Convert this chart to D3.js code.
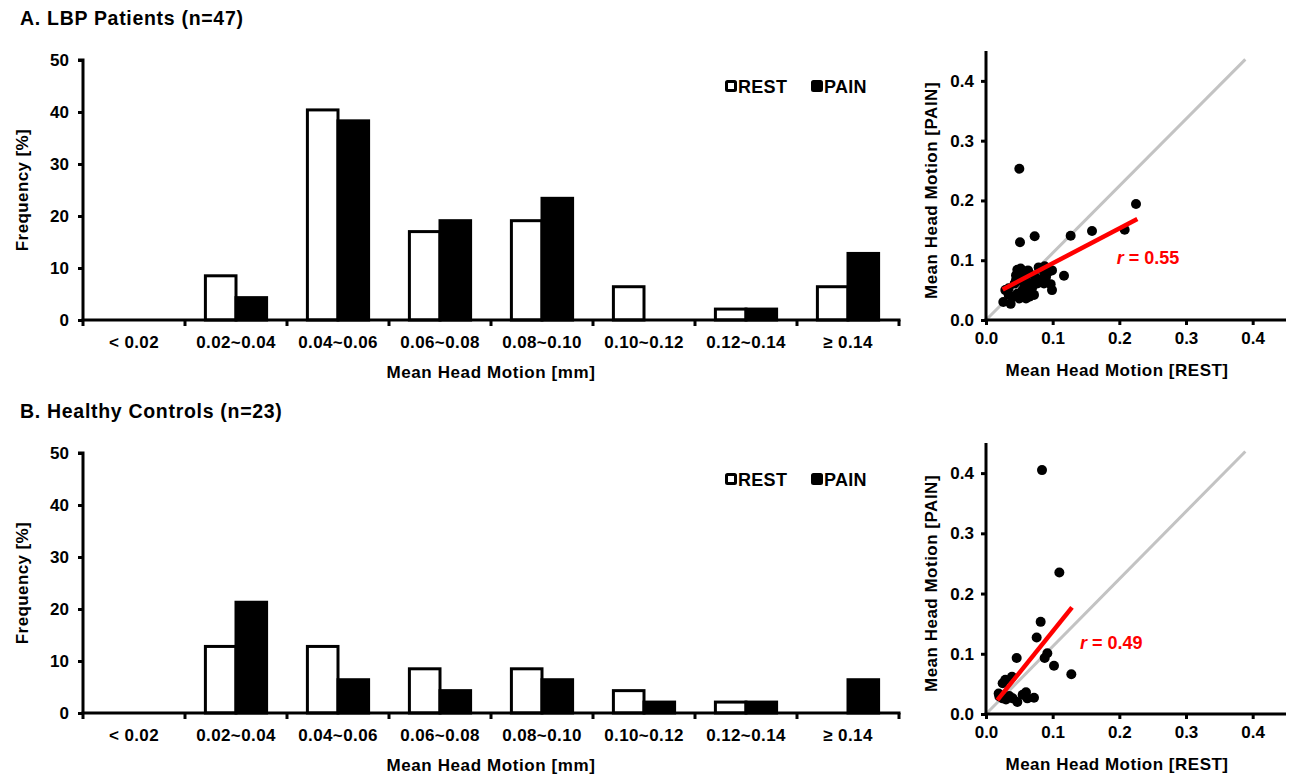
<!DOCTYPE html>
<html>
<head>
<meta charset="utf-8">
<script src="https://cdn.jsdelivr.net/npm/d3@7"></script>
<style>
  body { margin: 0; background: #fff; }
  text { font-family: "Liberation Sans", Arial, sans-serif; font-weight: bold; fill: #000; }
</style>
</head>
<body>
<svg id="chart"></svg>
<script>
// histogram bins
let categories = ["< 0.02", "0.02~0.04", "0.04~0.06", "0.06~0.08", "0.08~0.10", "0.10~0.12", "0.12~0.14", "\u2265 0.14"];
let seriesNames = ["REST", "PAIN"];
let yTicks = [0, 10, 20, 30, 40, 50];
let scatterTicks = [0, 0.1, 0.2, 0.3, 0.4];

// A. LBP patients, % of subjects
let restA = [0, 8.5, 40.4, 17.0, 19.1, 6.4, 2.1, 6.4];
let painA = [0, 4.3, 38.3, 19.1, 23.4, 0, 2.1, 12.8];
// B. healthy controls
let restB = [0, 12.8, 12.8, 8.5, 8.5, 4.3, 2.1, 0];
let painB = [0, 21.3, 6.4, 4.3, 6.4, 2.1, 2.1, 6.4];

// scatter: [rest, pain] mean head motion (mm)
let pointsA = [
    [0.050, 0.253], [0.225, 0.194], [0.208, 0.151], [0.159, 0.149], [0.127, 0.141],
    [0.073, 0.140], [0.051, 0.130], [0.117, 0.074], [0.026, 0.030], [0.037, 0.027],
    [0.047, 0.084], [0.052, 0.086], [0.079, 0.088], [0.088, 0.090], [0.099, 0.083],
    [0.097, 0.060], [0.099, 0.050], [0.082, 0.067], [0.072, 0.042], [0.065, 0.039],
    [0.057, 0.061], [0.034, 0.053], [0.029, 0.050], [0.040, 0.039], [0.047, 0.044],
    [0.055, 0.050], [0.060, 0.072], [0.067, 0.061], [0.052, 0.067], [0.063, 0.083],
    [0.045, 0.067], [0.074, 0.072], [0.090, 0.072], [0.093, 0.080], [0.043, 0.061],
    [0.057, 0.039], [0.062, 0.050], [0.050, 0.036], [0.034, 0.042], [0.065, 0.078],
    [0.087, 0.080], [0.077, 0.061], [0.055, 0.081], [0.069, 0.053], [0.045, 0.075],
    [0.087, 0.061], [0.060, 0.036]
];
let pointsB = [
    [0.084, 0.405], [0.110, 0.235], [0.082, 0.153], [0.076, 0.127], [0.092, 0.101],
    [0.088, 0.093], [0.102, 0.080], [0.128, 0.066], [0.046, 0.093], [0.039, 0.062],
    [0.029, 0.057], [0.025, 0.051], [0.019, 0.034], [0.025, 0.026], [0.035, 0.030],
    [0.047, 0.020], [0.060, 0.036], [0.062, 0.026], [0.072, 0.027], [0.055, 0.032],
    [0.030, 0.024], [0.040, 0.026], [0.020, 0.029]
];
let fitA = [[0.025, 0.051], [0.227, 0.169]];
let fitB = [[0.017, 0.023], [0.129, 0.177]];
let refLine = [[0, 0], [0.389, 0.436]];
let rA = "0.55";
let rB = "0.49";

let svg = d3.select("#chart").attr("width", 1291).attr("height", 776);

function histogram(top, title, rest, pain) {
    let g = svg.append("g").attr("transform", `translate(0, ${top})`);
    let bottom = 320, ceil = 60, left = 83, right = 899;

    g.append("text").attr("x", 20).attr("y", 25)
        .style("font-size", "19.5px").style("letter-spacing", "0.7px")
        .text(title);

    let x = d3.scaleBand().domain(categories).range([left, right])
        .paddingInner(0.4).paddingOuter(0.2);
    let xs = d3.scaleBand().domain(seriesNames).range([0, x.bandwidth()]);
    let y = d3.scaleLinear().domain([0, 50]).range([bottom, ceil]);

    let rows = categories.map((c, i) => ({ cat: c, REST: rest[i], PAIN: pain[i] }));
    g.append("g").selectAll("g").data(rows).enter().append("g")
        .attr("transform", d => `translate(${x(d.cat)}, 0)`)
        .selectAll("rect")
        .data(d => seriesNames.map(s => ({ s: s, v: d[s] })).filter(e => e.v > 0))
        .enter().append("rect")
        .attr("x", d => xs(d.s))
        .attr("width", xs.bandwidth())
        .attr("y", d => y(d.v))
        .attr("height", d => y(0) - y(d.v))
        .attr("fill", d => d.s == "REST" ? "#fff" : "#000")
        .attr("stroke", "#000")
        .attr("stroke-width", 3);

    // y axis
    let ya = g.append("g").attr("transform", `translate(${left}, 0)`)
        .call(d3.axisLeft(y).tickValues(yTicks).tickSize(5).tickPadding(9));
    ya.select(".domain").attr("stroke-width", 3).attr("d", `M-5,${ceil}H0V${bottom}`);
    ya.selectAll(".tick line").attr("stroke-width", 3);
    ya.selectAll("text").style("font-size", "17px").style("font-family", null);

    // x axis: labels centred, ticks on bin edges
    let xa = g.append("g").attr("transform", `translate(0, ${bottom})`)
        .call(d3.axisBottom(x).tickSize(0).tickPadding(16));
    xa.select(".domain").attr("stroke-width", 3).attr("d", `M${left - 1.5},0H${right + 1.5}`);
    xa.selectAll("text").style("font-size", "17px").style("font-family", null).style("letter-spacing", "0.4px");
    let edges = categories.map(c => x(c) - x.step() * x.paddingInner() / 2)
        .concat([right]);
    xa.selectAll(".edge").data(edges).enter().append("line")
        .attr("x1", d => d).attr("x2", d => d)
        .attr("y1", 0).attr("y2", 6)
        .attr("stroke", "#000").attr("stroke-width", 3);

    g.append("text").attr("x", (left + right) / 2).attr("y", 58 + bottom)
        .attr("text-anchor", "middle")
        .style("font-size", "17px").style("letter-spacing", "0.6px")
        .text("Mean Head Motion [mm]");
    g.append("text")
        .attr("transform", `translate(28, ${(ceil + bottom) / 2}) rotate(-90)`)
        .attr("text-anchor", "middle")
        .style("font-size", "17px").style("letter-spacing", "0.4px")
        .text("Frequency [%]");

    // legend
    let lg = g.append("g");
    let legendX = [725, 811];
    seriesNames.forEach((s, i) => {
        lg.append("rect").attr("x", legendX[i] + 1.5).attr("y", 81.5)
            .attr("width", 9).attr("height", 9).attr("rx", 1)
            .attr("fill", s == "REST" ? "#fff" : "#000")
            .attr("stroke", "#000").attr("stroke-width", 3);
        lg.append("text").attr("x", legendX[i] + 13).attr("y", 92.5)
            .style("font-size", "18px").style("letter-spacing", "0.3px")
            .text(s);
    });
}

function scatter(top, bottom, points, fit, r, rPos) {
    let left = 986;
    let x = d3.scaleLinear().domain([0, 0.45]).range([left, left + 300]);
    let y = d3.scaleLinear().domain([0, 0.45]).range([bottom, top]);
    let g = svg.append("g");

    let line = d3.line().x(d => x(d[0])).y(d => y(d[1]));
    g.append("path").attr("d", line(refLine))
        .attr("stroke", "#c3c3c3").attr("stroke-width", 3).attr("fill", "none");

    g.append("g").selectAll("circle").data(points).enter().append("circle")
        .attr("cx", d => x(d[0])).attr("cy", d => y(d[1])).attr("r", 5)
        .attr("fill", "#000");

    g.append("path").attr("d", line(fit))
        .attr("stroke", "#f00").attr("stroke-width", 4.5).attr("fill", "none");

    let t = g.append("text").attr("x", x(rPos[0])).attr("y", y(rPos[1]))
        .style("font-size", "18px").style("fill", "#f00");
    t.append("tspan").style("font-style", "italic").style("fill", "#f00").text("r");
    t.append("tspan").style("fill", "#f00").text(" = " + r);

    let xa = g.append("g").attr("transform", `translate(0, ${bottom})`)
        .call(d3.axisBottom(x).tickValues(scatterTicks).tickFormat(d3.format(".1f")).tickSize(5).tickPadding(7));
    xa.select(".domain").attr("stroke-width", 3).attr("d", `M${left - 1.5},0H${left + 300}`);
    xa.selectAll(".tick line").attr("stroke-width", 3);
    xa.selectAll("text").style("font-size", "17px").style("font-family", null);

    let ya = g.append("g").attr("transform", `translate(${left}, 0)`)
        .call(d3.axisLeft(y).tickValues(scatterTicks).tickFormat(d3.format(".1f")).tickSize(5).tickPadding(7));
    ya.select(".domain").attr("stroke-width", 3).attr("d", `M0,${top}V${bottom + 1.5}`);
    ya.selectAll(".tick line").attr("stroke-width", 3);
    ya.selectAll("text").style("font-size", "17px").style("font-family", null);

    g.append("text").attr("x", left + 131).attr("y", bottom + 56)
        .attr("text-anchor", "middle")
        .style("font-size", "17px").style("letter-spacing", "0.5px")
        .text("Mean Head Motion [REST]");
    g.append("text")
        .attr("transform", `translate(937, ${(top + bottom) / 2 + 5}) rotate(-90)`)
        .attr("text-anchor", "middle")
        .style("font-size", "17px").style("letter-spacing", "0.5px")
        .text("Mean Head Motion [PAIN]");
}

histogram(0, "A. LBP Patients (n=47)", restA, painA);
histogram(393, "B. Healthy Controls (n=23)", restB, painB);
scatter(51, 320, pointsA, fitA, rA, [0.196, 0.093]);
scatter(443, 714, pointsB, fitB, rB, [0.141, 0.108]);
</script>
</body>
</html>
